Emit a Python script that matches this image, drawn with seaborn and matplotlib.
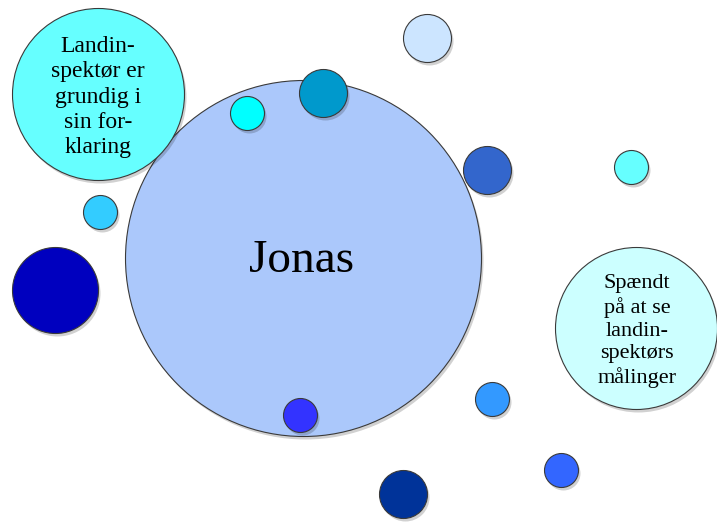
import numpy as np
import pandas as pd
import seaborn as sns
import matplotlib.pyplot as plt

# bobler: midtpunkt (pixel), radius (pixel), farve
names = ['jonas', 'landin', 'spaendt', 'cyan_top', 'teal', 'lightblue_left',
         'darkblue_left', 'pale_top', 'blue_right', 'cyan_right',
         'blue_mid', 'blue_bottom', 'blue_low_right', 'navy_bottom']
x_pos = [303, 98, 636, 247, 323, 100, 55, 427, 487, 631, 492, 300, 561, 403]
y_pos = [258, 94, 328, 113, 93, 212, 290, 38, 170, 167, 399, 415, 470, 494]
radius = [178, 86, 81, 17, 24, 17, 43, 24, 24, 17, 17, 17, 17, 24]
colors = ['#ABC8FB', '#66FFFF', '#CCFFFF', '#00FFFF', '#0099CC', '#33CCFF',
          '#0000BF', '#CCE5FF', '#3366CC', '#66FFFF', '#3399FF', '#3333FF',
          '#3366FF', '#003399']

labels = ['Jonas', 'Landin-\nspektør er\ngrundig i\nsin for-\nklaring',
          'Spændt\npå at se\nlandin-\nspektørs\nmålinger']
label_x = [302, 98, 637]
label_y = [261, 97, 331]
label_size = [34, 17, 16]
label_spacing = [1.0, 1.28, 1.24]

df = pd.DataFrame({'name': names, 'x': x_pos, 'y': y_pos, 'r': radius})

W, H, DPI = 717, 528, 100
fig = plt.figure(figsize=(W / DPI, H / DPI), dpi=DPI)
ax = fig.add_axes([0, 0, 1, 1])
ax.set_xlim(0, W)
ax.set_ylim(H, 0)

# 1 dataenhed = 1 pixel -> markørstørrelse i punkter^2
df['s'] = (2 * df['r'] * 72 / DPI) ** 2
palette = dict(zip(names, colors))

for i, row in df.iterrows():
    one = df.iloc[[i]]
    # blød skygge
    sns.scatterplot(x=one['x'] + 1.5, y=one['y'] + 3, s=one['s'].values[0],
                    color='#000000', alpha=0.18, linewidth=0, ax=ax,
                    legend=False)
    sns.scatterplot(data=one, x='x', y='y', hue='name', palette=palette,
                    s=one['s'].values[0], edgecolor='#3a3a3a', linewidth=0.8,
                    alpha=1, ax=ax, legend=False)

for txt, tx, ty, fs, ls in zip(labels, label_x, label_y, label_size, label_spacing):
    ax.text(tx, ty, txt, ha='center', va='center', fontsize=fs,
            family=['Liberation Serif', 'DejaVu Serif'], linespacing=ls,
            color='black')

ax.set_axis_off()
fig.savefig('out.png', dpi=DPI)
